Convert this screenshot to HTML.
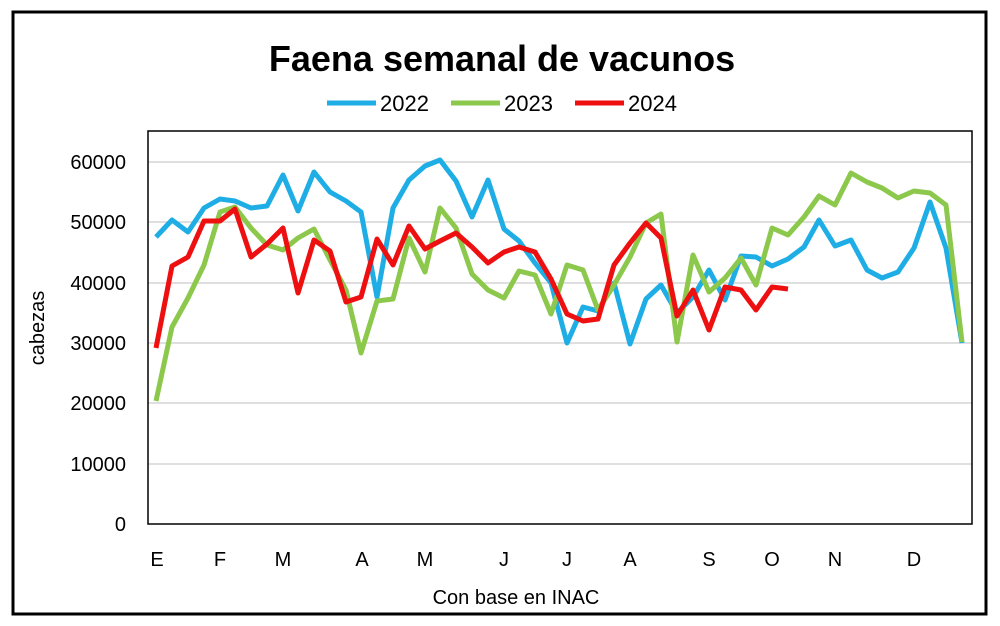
<!DOCTYPE html>
<html><head><meta charset="utf-8"><style>
body{margin:0;background:#fff}
svg{display:block}
text{font-family:"Liberation Sans",sans-serif}
</style></head><body>
<svg width="1000" height="626" viewBox="0 0 1000 626">
<rect x="0" y="0" width="1000" height="626" fill="#fff"/>
<rect x="13" y="12" width="973" height="602" fill="none" stroke="#000" stroke-width="3"/>
<g stroke="#bfbfbf" stroke-width="1">
<line x1="148" x2="972" y1="162" y2="162"/><line x1="148" x2="972" y1="222" y2="222"/>
<line x1="148" x2="972" y1="283" y2="283"/><line x1="148" x2="972" y1="343" y2="343"/>
<line x1="148" x2="972" y1="403" y2="403"/><line x1="148" x2="972" y1="464" y2="464"/>
</g>
<rect x="148" y="131" width="824" height="393" fill="none" stroke="#000" stroke-width="1.5"/>
<text x="502" y="71" font-size="36" font-weight="bold" text-anchor="middle">Faena semanal de vacunos</text>
<g font-size="22">
<line x1="327" x2="376" y1="103" y2="103" stroke="#1eaee5" stroke-width="5"/><text x="380" y="111">2022</text>
<line x1="451" x2="500" y1="103" y2="103" stroke="#8cc84b" stroke-width="5"/><text x="504" y="111">2023</text>
<line x1="575" x2="624" y1="103" y2="103" stroke="#ee1010" stroke-width="5"/><text x="628" y="111">2024</text>
</g>
<g font-size="20" text-anchor="end">
<text x="126" y="169">60000</text><text x="126" y="229">50000</text><text x="126" y="290">40000</text>
<text x="126" y="350">30000</text><text x="126" y="410">20000</text><text x="126" y="471">10000</text>
<text x="126" y="531">0</text>
</g>
<g font-size="20" text-anchor="middle">
<text x="157" y="566">E</text><text x="220" y="566">F</text><text x="283" y="566">M</text>
<text x="362" y="566">A</text><text x="425" y="566">M</text><text x="504" y="566">J</text>
<text x="567" y="566">J</text><text x="630" y="566">A</text><text x="709" y="566">S</text>
<text x="772" y="566">O</text><text x="835" y="566">N</text><text x="914" y="566">D</text>
<text x="516" y="604">Con base en INAC</text>
</g>
<text transform="translate(44,328) rotate(-90)" font-size="20" text-anchor="middle">cabezas</text>
<g fill="none" stroke-width="5" stroke-linejoin="round">
<polyline stroke="#1eaee5" points="156,237 172,220 188,232 204,208 220,199 235,201 251,208 267,206 283,175 298,211 314,172 330,192 346,201 361,212 377,297 393,208 409,180 425,166 440,160 456,181 472,217 488,180 504,229 519,241 535,263 551,283 567,343 583,307 598,311 614,283 630,344 646,299 661,285 677,313 693,297 709,270 725,300 741,256 756,257 772,266 788,259 804,247 819,220 835,246 851,240 867,270 882,278 898,272 914,248 930,202 946,248 962,343"/>
<polyline stroke="#8cc84b" points="156,401 172,327 188,298 204,265 220,212 235,207 251,228 267,245 283,250 298,238 314,229 330,260 346,290 361,353 377,301 393,299 409,238 425,272 440,208 456,228 472,274 488,290 504,298 519,271 535,275 551,314 567,265 583,270 598,310 614,285 630,257 646,223 661,214 677,342 693,255 709,292 725,278 741,258 756,285 772,228 788,235 804,217 819,196 835,205 851,173 867,182 882,188 898,198 914,191 930,193 946,205 962,342"/>
<polyline stroke="#ee1010" points="156,348 172,266 188,257 204,221 220,221 235,209 251,257 267,244 283,228 298,293 314,240 330,251 346,302 361,297 377,239 393,265 409,226 425,249 440,241 456,233 472,247 488,263 504,252 519,247 535,252 551,279 567,314 583,321 598,319 614,265 630,243 646,223 661,238 677,316 693,290 709,330 725,287 741,290 756,310 772,287 788,289"/>
</g>
</svg>
</body></html>
